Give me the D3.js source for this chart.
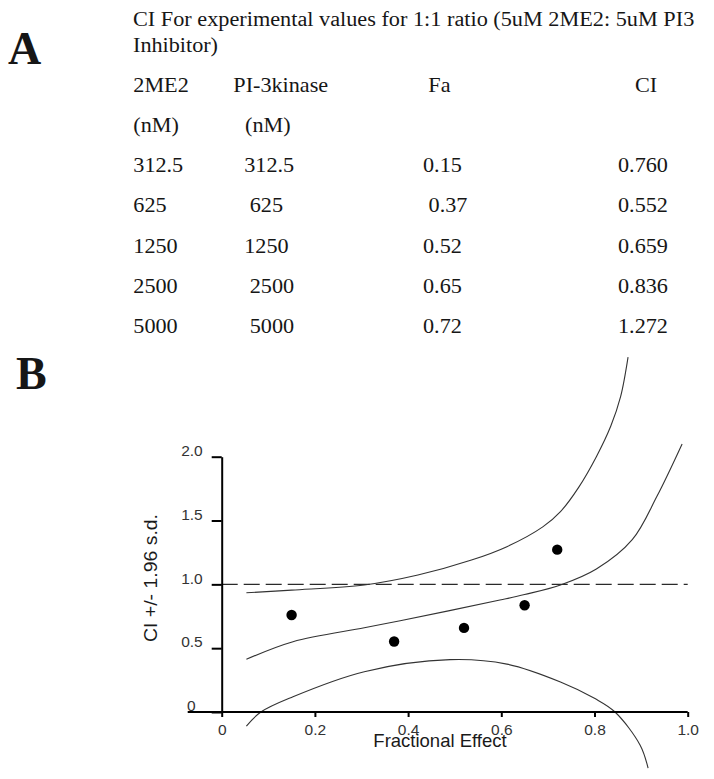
<!DOCTYPE html>
<html>
<head>
<meta charset="utf-8">
<script src="https://cdn.jsdelivr.net/npm/d3@7/dist/d3.min.js"></script>
<style>
  html, body { margin: 0; padding: 0; background: #fff; }
  svg { display: block; }
  .serif { font-family: "Liberation Serif", "Times New Roman", serif; fill: #161616; white-space: pre; }
  .sans { font-family: "Liberation Sans", Arial, sans-serif; }
</style>
</head>
<body>
<svg id="chart" width="714" height="779"></svg>
<script>
// ---------- Panel A table data ----------
const titleLines = ["CI For experimental values for 1:1 ratio (5uM 2ME2: 5uM PI3", "Inhibitor)"];
const headers = ["2ME2", "PI-3kinase", "Fa", "CI"];
const units = ["(nM)", "(nM)"];
const me2Conc = ["312.5", "625", "1250", "2500", "5000"];
const pi3kConc = ["312.5", " 625", "1250", " 2500", " 5000"];
const faText = ["0.15", " 0.37", "0.52", "0.65", "0.72"];
const ciText = ["0.760", "0.552", "0.659", "0.836", "1.272"];

// ---------- Panel B data ----------
const faValues = [0.15, 0.37, 0.52, 0.65, 0.72];
const ciValues = [0.760, 0.552, 0.659, 0.836, 1.272];
const xTicks = [0, 0.2, 0.4, 0.6, 0.8, 1.0];
const yTicks = [0, 0.5, 1.0, 1.5, 2.0];
// CI fit curve and +/- 1.96 s.d. bounds
const upperFa = [0.053, 0.15, 0.306, 0.421, 0.536, 0.612, 0.689, 0.727, 0.766, 0.804, 0.835, 0.856, 0.872];
const upperCI = [0.934, 0.955, 0.995, 1.073, 1.19, 1.295, 1.45, 1.57, 1.76, 2.0, 2.24, 2.47, 2.78];
const midFa = [0.053, 0.153, 0.306, 0.383, 0.597, 0.65, 0.727, 0.804, 0.881, 0.934, 0.988];
const midCI = [0.413, 0.551, 0.66, 0.715, 0.877, 0.92, 0.995, 1.12, 1.35, 1.69, 2.10];
const lowerFa = [0.053, 0.084, 0.153, 0.306, 0.49, 0.612, 0.727, 0.801, 0.844, 0.898, 0.915];
const lowerCI = [-0.11, 0.0, 0.12, 0.316, 0.41, 0.375, 0.235, 0.105, 0.0, -0.26, -0.44];
const refLine = 1.0;

const svg = d3.select("#chart");
const SX = 1.11; // horizontal stretch of panel A text

function serifText(g, x, y, str, size, weight, sx) {
  return g.append("text")
    .attr("class", "serif")
    .attr("xml:space", "preserve")
    .attr("transform", `translate(${x},${y}) scale(${sx},1)`)
    .attr("font-size", size)
    .attr("font-weight", weight || "normal")
    .text(str);
}

// ---------- Panel letters ----------
serifText(svg, 8, 63.5, "A", 46, "bold", 1);
serifText(svg, 16, 388.5, "B", 46, "bold", 1);

// ---------- Panel A ----------
const gA = svg.append("g");
const rowStep = 40.15;
serifText(gA, 133, 26, titleLines[0], 20, "normal", 1.113);
serifText(gA, 133, 52, titleLines[1], 20, "normal", SX);
const headerX = [133.3, 233.3, 428.3, 635];
headers.forEach((h, i) => serifText(gA, headerX[i], 92, h, 20, "normal", SX));
const unitX = [133.3, 245];
units.forEach((u, i) => serifText(gA, unitX[i], 92 + rowStep, u, 20, "normal", SX));
const colX = [133.3, 244.2, 423, 618];
const cols = [me2Conc, pi3kConc, faText, ciText];
cols.forEach((col, c) => {
  col.forEach((v, r) => serifText(gA, colX[c], 92 + rowStep * (r + 2), v, 20, "normal", SX));
});

// ---------- Panel B ----------
const x = d3.scaleLinear().domain([0, 1]).range([221.7, 687.7]);
const y = d3.scaleLinear().domain([0, 2]).range([712, 456.7]);

const gB = svg.append("g");

// reference dashed line at CI = 1
gB.append("line")
  .attr("x1", x(0)).attr("x2", x(1))
  .attr("y1", y(refLine)).attr("y2", y(refLine))
  .attr("stroke", "#2a2a2a").attr("stroke-width", 1.3)
  .attr("stroke-dasharray", "16,6");

// curves
const line = d3.line().x(d => x(d[0])).y(d => y(d[1])).curve(d3.curveCatmullRom.alpha(0.5));
const curves = [
  d3.zip(upperFa, upperCI),
  d3.zip(midFa, midCI),
  d3.zip(lowerFa, lowerCI)
];
gB.selectAll("path.curve").data(curves).join("path")
  .attr("class", "curve")
  .attr("d", line)
  .attr("fill", "none")
  .attr("stroke", "#333")
  .attr("stroke-width", 1.1);

// y axis
const yAxis = d3.axisLeft(y).tickValues(yTicks).tickSize(10).tickSizeOuter(0)
  .tickFormat(d => d === 0 ? "0" : d3.format(".1f")(d));
const gy = gB.append("g").attr("transform", `translate(${x(0)},0)`).call(yAxis);
gy.attr("font-size", null).attr("font-family", null);
gy.select(".domain").attr("stroke", "#000").attr("stroke-width", 2);
gy.selectAll(".tick line").attr("stroke", "#000").attr("stroke-width", 2);
gy.selectAll(".tick text")
  .attr("class", "sans")
  .attr("font-size", 15.5)
  .attr("fill", "#333")
  .attr("x", d => d === 0 ? -26 : -19)
  .attr("dy", "-0.08em");

// x axis
const xAxis = d3.axisBottom(x).tickValues(xTicks).tickSize(5).tickSizeOuter(0)
  .tickFormat(d => d === 0 ? "0" : d3.format(".1f")(d));
const gx = gB.append("g").attr("transform", `translate(0,${y(0)})`).call(xAxis);
gx.attr("font-size", null).attr("font-family", null);
gx.select(".domain").remove();
gx.append("line")
  .attr("x1", 187.7).attr("x2", x(1))
  .attr("y1", 0).attr("y2", 0)
  .attr("stroke", "#000").attr("stroke-width", 2);
gx.selectAll(".tick line").attr("stroke", "#000").attr("stroke-width", 2);
gx.selectAll(".tick text")
  .attr("class", "sans")
  .attr("font-size", 15.5)
  .attr("fill", "#333")
  .attr("y", 23)
  .attr("dy", 0);

// data points
gB.selectAll("circle.pt").data(d3.zip(faValues, ciValues)).join("circle")
  .attr("class", "pt")
  .attr("cx", d => x(d[0]))
  .attr("cy", d => y(d[1]))
  .attr("r", 5.2)
  .attr("fill", "#000");

// axis titles
gB.append("text")
  .attr("class", "sans")
  .attr("x", 440).attr("y", 747)
  .attr("text-anchor", "middle")
  .attr("font-size", 18.5)
  .attr("fill", "#1a1a1a")
  .text("Fractional Effect");

gB.append("text")
  .attr("class", "sans")
  .attr("transform", "translate(157,578) rotate(-90)")
  .attr("text-anchor", "middle")
  .attr("font-size", 18)
  .attr("textLength", 128)
  .attr("lengthAdjust", "spacingAndGlyphs")
  .attr("fill", "#1a1a1a")
  .text("CI +/- 1.96 s.d.");
</script>
</body>
</html>
